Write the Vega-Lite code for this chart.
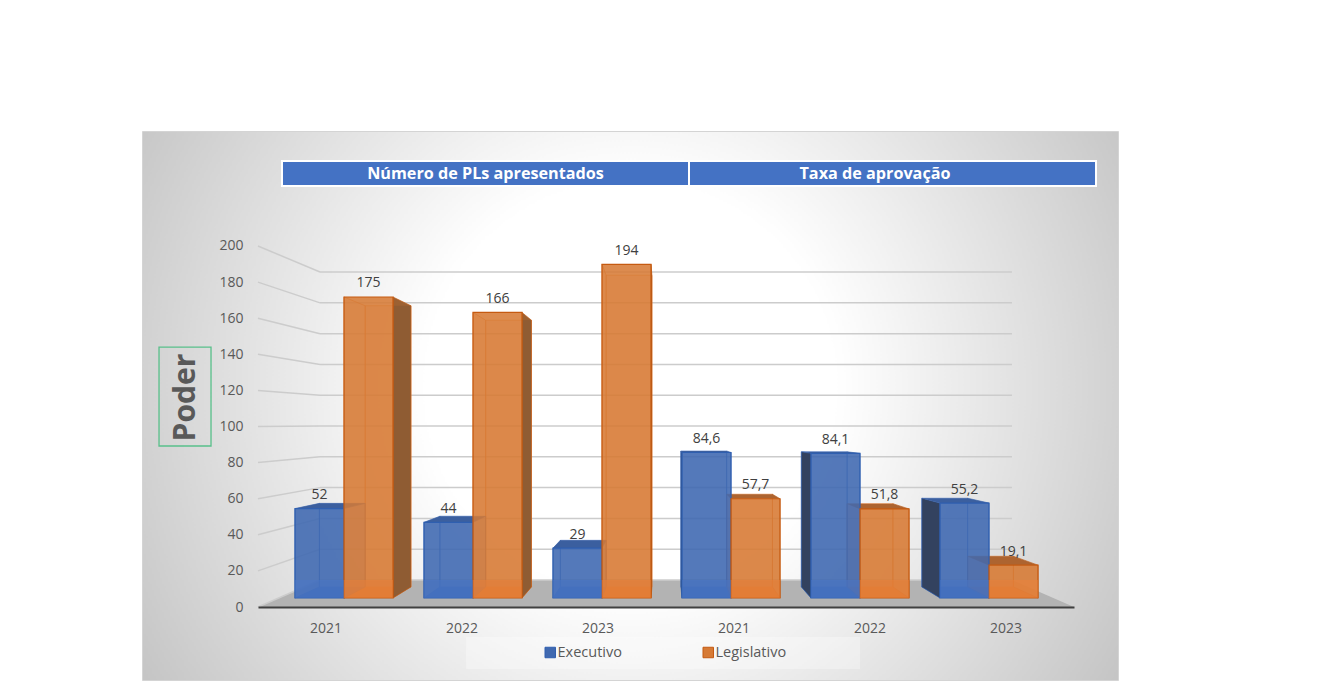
{
"$schema":"https://vega.github.io/schema/vega-lite/v6.json",
"width":976,"height":549,"autosize":"none",
"padding":{"left":142,"top":131,"right":223,"bottom":20},
"background":"white",
"view":{"stroke":"#d4d4d4","strokeWidth":1,"fill":{"gradient":"radial","x1":0.5,"y1":0.48,"r1":0,"x2":0.5,"y2":0.48,"r2":0.7,"stops":[{"offset":0,"color":"#ffffff"},{"offset":0.3,"color":"#ffffff"},{"offset":1,"color":"#b2b2b2"}]}},
"config":{"font":"Open Sans","text":{"font":"Open Sans"}},
"datasets":{
"pl":[
{"grupo":"Número de PLs apresentados","ano":"2021","poder":"Executivo","valor":52,"ordem":0},
{"grupo":"Número de PLs apresentados","ano":"2021","poder":"Legislativo","valor":175,"ordem":0},
{"grupo":"Número de PLs apresentados","ano":"2022","poder":"Executivo","valor":44,"ordem":1},
{"grupo":"Número de PLs apresentados","ano":"2022","poder":"Legislativo","valor":166,"ordem":1},
{"grupo":"Número de PLs apresentados","ano":"2023","poder":"Executivo","valor":29,"ordem":2},
{"grupo":"Número de PLs apresentados","ano":"2023","poder":"Legislativo","valor":194,"ordem":2},
{"grupo":"Taxa de aprovação","ano":"2021","poder":"Executivo","valor":84.6,"ordem":3},
{"grupo":"Taxa de aprovação","ano":"2021","poder":"Legislativo","valor":57.7,"ordem":3},
{"grupo":"Taxa de aprovação","ano":"2022","poder":"Executivo","valor":84.1,"ordem":4},
{"grupo":"Taxa de aprovação","ano":"2022","poder":"Legislativo","valor":51.8,"ordem":4},
{"grupo":"Taxa de aprovação","ano":"2023","poder":"Executivo","valor":55.2,"ordem":5},
{"grupo":"Taxa de aprovação","ano":"2023","poder":"Legislativo","valor":19.1,"ordem":5}
],
"grade":[{"t":0},{"t":20},{"t":40},{"t":60},{"t":80},{"t":100},{"t":120},{"t":140},{"t":160},{"t":180},{"t":200}],
"piso":[{"p":0},{"p":1}],
"cabecalho":[{"titulo":"Número de PLs apresentados"},{"titulo":"Taxa de aprovação"}]
},
"resolve":{"scale":{"x":"independent","y":"independent","fill":"independent","stroke":"independent"},"axis":{"x":"independent","y":"independent"},"legend":{"fill":"independent","stroke":"independent"}},
"layer":[
{"data":{"name":"piso"},
 "transform":[{"calculate":"14.96*datum.p","as":"yp"},{"calculate":"-0.287+0.481*datum.p","as":"xa"},{"calculate":"6.039-0.481*datum.p","as":"xb"}],
 "mark":{"type":"area","orient":"horizontal","color":"#b3b3b3"},
 "encoding":{
  "y":{"field":"yp","type":"quantitative","scale":{"domain":[-40.44,263.71],"nice":false,"zero":false},"axis":null},
  "x":{"field":"xa","type":"quantitative","scale":{"domain":[-1.186,6.38],"nice":false,"zero":false},"axis":null},
  "x2":{"field":"xb"}}},
{"data":{"name":"grade"},
 "transform":[{"calculate":"14.96+0.853*datum.t","as":"yf"}],
 "mark":{"type":"rule","color":"#cccccc","strokeWidth":1.5},
 "encoding":{
  "y":{"field":"t","type":"quantitative","scale":{"domain":[-40.44,263.71],"nice":false,"zero":false},
   "axis":{"values":[0,20,40,60,80,100,120,140,160,180,200],"grid":false,"domain":false,"ticks":false,"offset":-111,"labelPadding":10,"labelFontSize":14,"labelColor":"#595959","labelFont":"Open Sans","labelOffset":0,
    "title":"Poder","titleFont":"Open Sans","titleFontSize":30,"titleFontWeight":"bold","titleColor":"#595959","titleX":-68,"titleY":266,"titleAngle":270,"titleAlign":"center","titleBaseline":"middle"}},
  "y2":{"field":"yf"},
  "x":{"datum":-0.287,"type":"quantitative","scale":{"domain":[-1.186,6.38],"nice":false,"zero":false},"axis":null},
  "x2":{"datum":0.194}}},
{"data":{"name":"grade"},
 "transform":[{"calculate":"14.96+0.853*datum.t","as":"yf"}],
 "mark":{"type":"rule","color":"#cccccc","strokeWidth":1.5},
 "encoding":{
  "y":{"field":"yf","type":"quantitative","scale":{"domain":[-40.44,263.71],"nice":false,"zero":false},"axis":null},
  "x":{"datum":0.194,"type":"quantitative","scale":{"domain":[-1.186,6.38],"nice":false,"zero":false},"axis":null},
  "x2":{"datum":5.558}}},
{"data":{"name":"pl"},
 "transform":[{"calculate":"datum.grupo+'|'+datum.ano","as":"cat"}],
 "mark":{"type":"bar","opacity":0},
 "encoding":{
  "x":{"field":"cat","type":"nominal","sort":null,"scale":{"range":[116,932],"paddingInner":0,"paddingOuter":0},
   "axis":{"title":null,"offset":-73,"ticks":false,"domainColor":"#404040","domainWidth":2,"labelPadding":14,"labelAngle":0,"labelFontSize":14,"labelColor":"#595959","labelFont":"Open Sans","labelExpr":"split(datum.value,'|')[1]","zindex":1}},
  "y":{"datum":0,"type":"quantitative","scale":{"domain":[-47.67,271.5],"nice":false,"zero":false},"axis":null}}},
{"data":{"values":[{"area":"legenda"}]},
 "mark":{"type":"rect","fill":"#ffffff","fillOpacity":0.3},
 "encoding":{
  "x":{"datum":1.326,"type":"quantitative","scale":{"domain":[-1.186,6.38],"nice":false,"zero":false},"axis":null},
  "x2":{"datum":4.38},
  "y":{"datum":-22.7,"type":"quantitative","scale":{"domain":[-47.67,271.5],"nice":false,"zero":false},"axis":null},
  "y2":{"datum":-41.3}}},
{"data":{"values":[{"area":"caixa"}]},
 "mark":{"type":"rect","fill":null,"stroke":"#58c08a","strokeWidth":1.3},
 "encoding":{
  "x":{"datum":-1.054,"type":"quantitative","scale":{"domain":[-1.186,6.38],"nice":false,"zero":false},"axis":null},
  "x2":{"datum":-0.651},
  "y":{"datum":144,"type":"quantitative","scale":{"domain":[-40.44,263.71],"nice":false,"zero":false},"axis":null},
  "y2":{"datum":89.2}}},
{"data":{"name":"cabecalho"},
 "mark":{"type":"rect","fill":"#4472c4","stroke":"#ffffff","strokeWidth":2},
 "encoding":{
  "x":{"field":"titulo","type":"nominal","sort":null,"scale":{"range":[140,954],"paddingInner":0,"paddingOuter":0},"axis":null},
  "y":{"datum":0,"type":"quantitative","scale":{"domain":[0,1],"range":[55,30],"nice":false},"axis":null},
  "y2":{"datum":1}}},
{"data":{"name":"cabecalho"},
 "mark":{"type":"text","color":"#ffffff","fontSize":16.2,"fontWeight":"bold","font":"Open Sans"},
 "encoding":{
  "text":{"field":"titulo"},
  "x":{"field":"titulo","type":"nominal","sort":null,"scale":{"range":[148.75,927.75],"paddingInner":0,"paddingOuter":0},"axis":null},
  "y":{"datum":0.5,"type":"quantitative","scale":{"domain":[0,1],"range":[55,30],"nice":false},"axis":null}}},
{"data":{"name":"pl"},
 "transform":[
  {"calculate":"datum.ordem+(datum.poder==='Executivo'?0:0.38)","as":"ue"},
  {"calculate":"datum.ue+0.38","as":"ud"},
  {"calculate":"datum.ue+0.066*(2.868-datum.ue)","as":"xe"},
  {"calculate":"datum.ud+0.066*(2.868-datum.ud)","as":"xd"},
  {"calculate":"datum.valor+0.066*(97.7-datum.valor)","as":"yt"},
  {"calculate":"0.066*97.7","as":"yb"}],
 "mark":{"type":"rect","fillOpacity":0.3,"strokeWidth":1,"strokeOpacity":0.6},
 "encoding":{
  "x":{"field":"xe","type":"quantitative","scale":{"domain":[-1.186,6.38],"nice":false,"zero":false},"axis":null},
  "x2":{"field":"xd"},
  "y":{"field":"yt","type":"quantitative","scale":{"domain":[-47.67,271.5],"nice":false,"zero":false},"axis":null},
  "y2":{"field":"yb"},
  "fill":{"field":"poder","type":"nominal","scale":{"domain":["Executivo","Legislativo"],"range":["#4472c4","#ed7d31"]},"legend":null},
  "stroke":{"field":"poder","type":"nominal","scale":{"domain":["Executivo","Legislativo"],"range":["#4472c4","#ed7d31"]},"legend":null}}},
{"data":{"name":"pl"},
 "transform":[
  {"calculate":"datum.ordem+(datum.poder==='Executivo'?0:0.38)","as":"ue"},
  {"calculate":"datum.ue+0.38","as":"ud"},
  {"calculate":"datum.grupo+datum.ano+datum.poder","as":"barra"},
  {"calculate":"0","as":"f0"},{"calculate":"0.066","as":"f1"},
  {"fold":["f0","f1"],"as":["face","d"]},
  {"calculate":"datum.ue+datum.d*(2.868-datum.ue)","as":"xe"},
  {"calculate":"datum.ud+datum.d*(2.868-datum.ud)","as":"xd"},
  {"calculate":"datum.d*97.7","as":"yb"}],
 "mark":{"type":"area","orient":"horizontal","fillOpacity":0.95},
 "encoding":{
  "y":{"field":"yb","type":"quantitative","scale":{"domain":[-47.67,271.5],"nice":false,"zero":false},"axis":null},
  "x":{"field":"xe","type":"quantitative","scale":{"domain":[-1.186,6.38],"nice":false,"zero":false},"axis":null},
  "x2":{"field":"xd"},
  "detail":{"field":"barra"},
  "fill":{"field":"poder","type":"nominal","scale":{"domain":["Executivo","Legislativo"],"range":["#4472c4","#ed7d31"]},"legend":null}}},
{"data":{"name":"pl"},
 "transform":[
  {"calculate":"datum.ordem+(datum.poder==='Executivo'?0:0.38)","as":"ue"},
  {"calculate":"datum.grupo+datum.ano+datum.poder","as":"barra"},
  {"calculate":"datum.poder+((datum.poder==='Executivo'&&datum.ue>2.868)?' externo':'')","as":"tom"},
  {"calculate":"0","as":"f0"},{"calculate":"0.066","as":"f1"},
  {"fold":["f0","f1"],"as":["face","d"]},
  {"calculate":"datum.ue+datum.d*(2.868-datum.ue)","as":"xp"},
  {"calculate":"datum.valor+datum.d*(97.7-datum.valor)","as":"yt"},
  {"calculate":"datum.d*97.7","as":"yb"}],
 "mark":{"type":"area","orient":"vertical","strokeWidth":1,"strokeOpacity":0.6},
 "encoding":{
  "x":{"field":"xp","type":"quantitative","scale":{"domain":[-1.186,6.38],"nice":false,"zero":false},"axis":null},
  "y":{"field":"yt","type":"quantitative","scale":{"domain":[-47.67,271.5],"nice":false,"zero":false},"axis":null},
  "y2":{"field":"yb"},
  "detail":{"field":"barra"},
  "fill":{"field":"tom","type":"nominal","scale":{"domain":["Executivo","Legislativo","Executivo externo"],"range":["rgba(68,114,196,0.25)","rgba(237,125,49,0.25)","#33425f"]},"legend":null},
  "stroke":{"field":"poder","type":"nominal","scale":{"domain":["Executivo","Legislativo"],"range":["#2f5fb0","#dd6f25"]},"legend":null}}},
{"data":{"name":"pl"},
 "transform":[
  {"calculate":"datum.ordem+(datum.poder==='Executivo'?0.38:0.76)","as":"ud"},
  {"calculate":"datum.grupo+datum.ano+datum.poder","as":"barra"},
  {"calculate":"datum.poder+((datum.poder==='Legislativo'&&datum.ud<2.868)?' externo':'')","as":"tom"},
  {"calculate":"0","as":"f0"},{"calculate":"0.066","as":"f1"},
  {"fold":["f0","f1"],"as":["face","d"]},
  {"calculate":"datum.ud+datum.d*(2.868-datum.ud)","as":"xp"},
  {"calculate":"datum.valor+datum.d*(97.7-datum.valor)","as":"yt"},
  {"calculate":"datum.d*97.7","as":"yb"}],
 "mark":{"type":"area","orient":"vertical","strokeWidth":1,"strokeOpacity":0.6},
 "encoding":{
  "x":{"field":"xp","type":"quantitative","scale":{"domain":[-1.186,6.38],"nice":false,"zero":false},"axis":null},
  "y":{"field":"yt","type":"quantitative","scale":{"domain":[-47.67,271.5],"nice":false,"zero":false},"axis":null},
  "y2":{"field":"yb"},
  "detail":{"field":"barra"},
  "fill":{"field":"tom","type":"nominal","scale":{"domain":["Executivo","Legislativo","Legislativo externo"],"range":["rgba(68,114,196,0.25)","rgba(237,125,49,0.25)","#8f5c33"]},"legend":null},
  "stroke":{"field":"poder","type":"nominal","scale":{"domain":["Executivo","Legislativo"],"range":["#2f5fb0","#c55a11"]},"legend":null}}},
{"data":{"name":"pl"},
 "transform":[
  {"calculate":"datum.ordem+(datum.poder==='Executivo'?0:0.38)","as":"ue"},
  {"calculate":"datum.ue+0.38","as":"ud"},
  {"calculate":"datum.grupo+datum.ano+datum.poder","as":"barra"},
  {"calculate":"datum.poder+(datum.valor>97.7?' alto':'')","as":"tom"},
  {"calculate":"0","as":"f0"},{"calculate":"0.066","as":"f1"},
  {"fold":["f0","f1"],"as":["face","d"]},
  {"calculate":"datum.ue+datum.d*(2.868-datum.ue)","as":"xe"},
  {"calculate":"datum.ud+datum.d*(2.868-datum.ud)","as":"xd"},
  {"calculate":"datum.valor+datum.d*(97.7-datum.valor)","as":"yt"}],
 "mark":{"type":"area","orient":"horizontal"},
 "encoding":{
  "y":{"field":"yt","type":"quantitative","scale":{"domain":[-47.67,271.5],"nice":false,"zero":false},"axis":null},
  "x":{"field":"xe","type":"quantitative","scale":{"domain":[-1.186,6.38],"nice":false,"zero":false},"axis":null},
  "x2":{"field":"xd"},
  "detail":{"field":"barra"},
  "fill":{"field":"tom","type":"nominal","scale":{"domain":["Executivo","Legislativo","Legislativo alto"],"range":["#3b5f9f","#ad6430","rgba(237,125,49,0.15)"]},"legend":null}}},
{"data":{"name":"pl"},
 "transform":[
  {"calculate":"datum.ordem+(datum.poder==='Executivo'?0:0.38)","as":"ue"},
  {"calculate":"datum.ue+0.38","as":"ud"}],
 "mark":{"type":"rect","fillOpacity":0.85,"strokeWidth":1.2},
 "encoding":{
  "x":{"field":"ue","type":"quantitative","scale":{"domain":[-1.186,6.38],"nice":false,"zero":false},"axis":null},
  "x2":{"field":"ud"},
  "y":{"field":"valor","type":"quantitative","scale":{"domain":[-47.67,271.5],"nice":false,"zero":false},"axis":null},
  "y2":{"datum":0},
  "fill":{"field":"poder","type":"nominal","scale":{"domain":["Executivo","Legislativo"],"range":["#4069b0","#d67a35"]},
   "legend":{"title":null,"orient":"none","direction":"horizontal","columns":2,"legendX":401,"legendY":514,"symbolType":"square","symbolSize":110,"symbolOpacity":1,"columnPadding":79,"labelOffset":0,"labelFontSize":14.5,"labelColor":"#595959","labelFont":"Open Sans","symbolStrokeWidth":1}},
  "stroke":{"field":"poder","type":"nominal","scale":{"domain":["Executivo","Legislativo"],"range":["#2f5fb0","#c55a11"]},"legend":null}}},
{"data":{"name":"pl"},
 "transform":[
  {"calculate":"datum.ordem+(datum.poder==='Executivo'?0:0.38)","as":"ue"},
  {"calculate":"datum.ue+0.38","as":"ud"},
  {"calculate":"min(datum.valor,10.47)","as":"faixa"}],
 "mark":{"type":"rect","fillOpacity":0.45},
 "encoding":{
  "x":{"field":"ue","type":"quantitative","scale":{"domain":[-1.186,6.38],"nice":false,"zero":false},"axis":null},
  "x2":{"field":"ud"},
  "y":{"field":"faixa","type":"quantitative","scale":{"domain":[-47.67,271.5],"nice":false,"zero":false},"axis":null},
  "y2":{"datum":0},
  "fill":{"field":"poder","type":"nominal","scale":{"domain":["Executivo","Legislativo"],"range":["#4a78cc","#ef8037"]},"legend":null}}},
{"data":{"name":"pl"},
 "transform":[
  {"calculate":"datum.ordem+(datum.poder==='Executivo'?0.19:0.57)","as":"uc"},
  {"calculate":"replace(''+datum.valor,'.',',')","as":"rotulo"}],
 "mark":{"type":"text","color":"#404040","fontSize":14,"font":"Open Sans","dy":-13.5},
 "encoding":{
  "x":{"field":"uc","type":"quantitative","scale":{"domain":[-1.186,6.38],"nice":false,"zero":false},"axis":null},
  "y":{"field":"valor","type":"quantitative","scale":{"domain":[-47.67,271.5],"nice":false,"zero":false},"axis":null},
  "text":{"field":"rotulo"}}}
]
}
